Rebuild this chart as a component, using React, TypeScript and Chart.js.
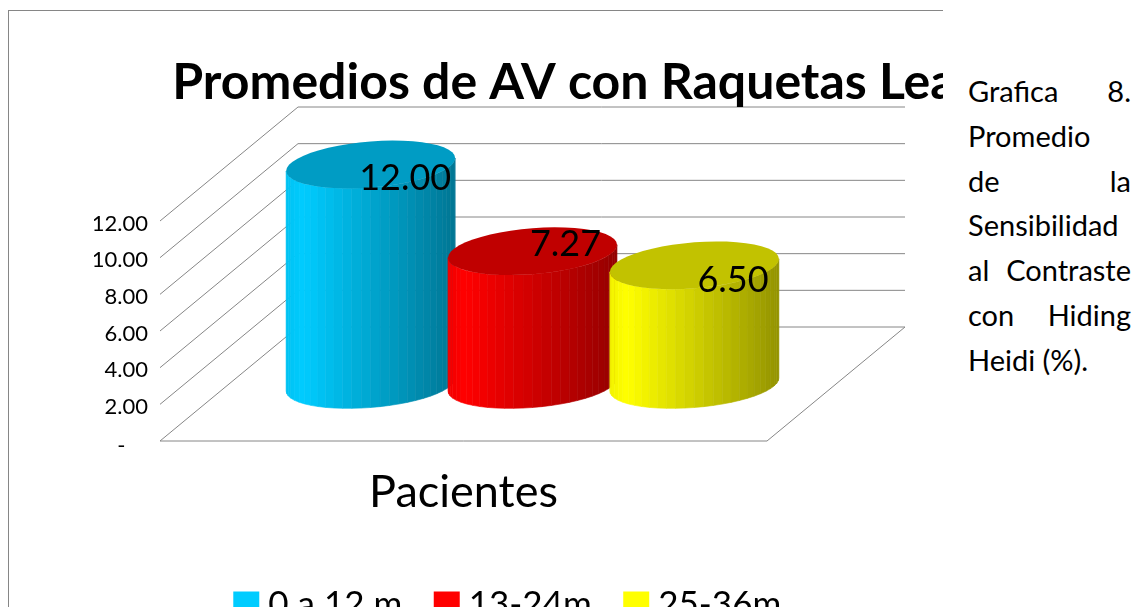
import React, { useEffect, useRef } from "react";
import { Chart, registerables } from "chart.js";

Chart.register(...registerables);

const categories = ["Pacientes"];
const seriesNames = ["0 a 12 m", "13-24m", "25-36m"];
const seriesValues = [12.0, 7.27, 6.5];
const seriesColors = ["#00CCFF", "#FF0000", "#FFFF00"];
const topColors = ["#009CC4", "#C00000", "#C2C200"];
const titleText = "Promedios de AV con Raquetas Lea";
const captionLines = ["Grafica 8.", "Promedio", "de la", "Sensibilidad", "al Contraste", "con Hiding", "Heidi (%)."];
const captionJustified = [true, false, true, false, true, true, false];

const FONT = "Lato, Carlito, sans-serif";
const DEPTH_X = 138;
const DEPTH_Y = 114;
const BAR_DX = 69;
const BAR_DY = 56.5;
const ELL_B = 23;
const ELL_K = 6.5;
const GRID = "#868686";
const LABEL_NUDGE = [[34.5, 13.5], [33, -7], [38.6, 15]];

function shade(hex: string, f: number) {
  const n = parseInt(hex.slice(1), 16);
  const c = [(n >> 16) & 255, (n >> 8) & 255, n & 255].map((v) => Math.round(v * f));
  return `rgb(${c[0]},${c[1]},${c[2]})`;
}

const scene3d = {
  id: "scene3d",
  afterLayout(chart: any) {
    chart.titleBlock.left = 0;
    chart.titleBlock.right = 1128;
    chart.legend.left = 0;
    chart.legend.right = 1023;
    chart.legend.top = 547;
  },
  beforeDraw(chart: any) {
    const c = chart.ctx;
    c.save();
    c.strokeStyle = GRID;
    c.lineWidth = 1;
    c.strokeRect(8.5, 10.5, 2000, 2000);
    const { left, right } = chart.chartArea;
    const y = chart.scales.y;
    const bottom = y.getPixelForValue(0);
    c.beginPath();
    for (const t of y.ticks) {
      const p = y.getPixelForValue(t.value);
      c.moveTo(left, p);
      c.lineTo(left + DEPTH_X, p - DEPTH_Y);
      c.lineTo(right + DEPTH_X, p - DEPTH_Y);
    }
    c.moveTo(left, bottom);
    c.lineTo(right, bottom);
    c.lineTo(right + DEPTH_X, bottom - DEPTH_Y);
    c.stroke();
    c.restore();
  },
  beforeDatasetsDraw(chart: any) {
    const c = chart.ctx;
    chart.data.datasets.forEach((ds: any, i: number) => {
      const bar = chart.getDatasetMeta(i).data[0];
      const cx = bar.x + BAR_DX;
      const topY = bar.y - BAR_DY;
      const baseY = bar.base - BAR_DY;
      const a = bar.width * 0.522;
      const px = (t: number) => cx + a * Math.cos(t);
      const py = (t: number, cy: number) => cy + ELL_B * Math.sin(t) - ELL_K * Math.cos(t);
      const N = 28;
      for (let k = 0; k < N; k++) {
        const t0 = Math.PI - (k / N) * Math.PI;
        const t1 = Math.PI - ((k + 1) / N) * Math.PI;
        const frac = (px((t0 + t1) / 2) - (cx - a)) / (2 * a);
        const f = frac < 0.1 ? 0.95 + frac * 0.5 : 1 - ((frac - 0.1) / 0.9) * 0.42;
        const col = shade(seriesColors[i], f);
        c.fillStyle = col;
        c.strokeStyle = col;
        c.lineWidth = 0.6;
        c.beginPath();
        c.moveTo(px(t0), py(t0, topY));
        c.lineTo(px(t1), py(t1, topY));
        c.lineTo(px(t1), py(t1, baseY));
        c.lineTo(px(t0), py(t0, baseY));
        c.closePath();
        c.fill();
        c.stroke();
      }
      c.fillStyle = topColors[i];
      c.beginPath();
      for (let k = 0; k <= 48; k++) {
        const t = (k / 48) * Math.PI * 2;
        if (k === 0) c.moveTo(px(t), py(t, topY));
        else c.lineTo(px(t), py(t, topY));
      }
      c.closePath();
      c.fill();
    });
    chart.data.datasets.forEach((ds: any, i: number) => {
      const bar = chart.getDatasetMeta(i).data[0];
      c.save();
      c.fillStyle = "#000";
      c.font = `36px ${FONT}`;
      c.textAlign = "center";
      c.textBaseline = "middle";
      c.fillText(
        ds.data[0].toFixed(2),
        bar.x + BAR_DX + LABEL_NUDGE[i][0],
        bar.y - BAR_DY + LABEL_NUDGE[i][1]
      );
      c.restore();
    });
    return false;
  },
};

export default function App() {
  const ref = useRef<HTMLCanvasElement | null>(null);
  useEffect(() => {
    document.body.style.margin = "0";
    document.body.style.background = "#fff";
    const chart = new Chart(ref.current as HTMLCanvasElement, {
      type: "bar",
      data: {
        labels: categories,
        datasets: seriesNames.map((name, i) => ({
          label: name,
          data: [seriesValues[i]],
          backgroundColor: seriesColors[i],
          borderColor: seriesColors[i],
          borderWidth: 17,
        })),
      },
      plugins: [scene3d],
      options: {
        responsive: false,
        animation: false,
        layout: { padding: { left: 94, right: 349, top: 0, bottom: 0 } },
        datasets: { bar: { categoryPercentage: 0.8, barPercentage: 1 } },
        plugins: {
          tooltip: { enabled: false },
          title: {
            display: true,
            text: titleText,
            color: "#000",
            font: { family: FONT, size: 50, weight: "bold", lineHeight: 1 },
            padding: { top: 58, bottom: 113 },
          },
          legend: {
            position: "bottom",
            labels: {
              boxWidth: 9,
              boxHeight: 9,
              padding: 40,
              color: "#000",
              font: { family: FONT, size: 35 },
            },
          },
        },
        scales: {
          x: {
            grid: { display: false, drawTicks: false },
            border: { display: false },
            ticks: { color: "#000", padding: 24, font: { family: FONT, size: 45 } },
            afterFit(s: any) {
              s.height = s.chart.height - 441 - (s.chart.legend?.height ?? 0);
            },
          },
          y: {
            min: 0,
            max: 12,
            grid: { display: false, drawTicks: false },
            border: { display: false },
            ticks: {
              stepSize: 2,
              padding: 12,
              autoSkip: false,
              color: "#000",
              font: { family: FONT, size: 22, lineHeight: 0.24 },
              callback: (v: any) => (v === 0 ? ["", "", "-    "] : ["", Number(v).toFixed(2)]),
            },
            afterFit(s: any) {
              s.width = 66;
            },
          },
        },
      } as any,
    });
    return () => chart.destroy();
  }, []);
  return (
    <div style={{ position: "relative", width: 1141, height: 607, overflow: "hidden", background: "#fff" }}>
      <div style={{ position: "absolute", left: 0, top: 0, width: 943, height: 607, overflow: "hidden" }}>
        <canvas ref={ref} width={1116} height={700} style={{ display: "block" }} />
      </div>
      <div style={{ position: "absolute", left: 968, top: 69, width: 163, font: `29px/44.8px ${FONT}`, color: "#000" }}>
        {captionLines.map((line, i) => (
          <div key={i} style={{ textAlign: "justify", textAlignLast: captionJustified[i] ? "justify" : "left", whiteSpace: "nowrap" }}>
            {line}
          </div>
        ))}
      </div>
    </div>
  );
}
